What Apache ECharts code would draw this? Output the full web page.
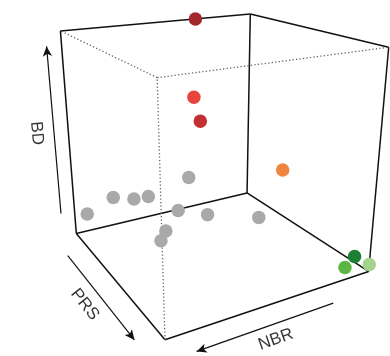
<!DOCTYPE html>
<html>
<head>
<meta charset="utf-8">
<script src="https://cdn.jsdelivr.net/npm/echarts@6/dist/echarts.min.js"></script>
<style>html,body{margin:0;padding:0;background:#fff}#chart{width:390px;height:356px}</style>
</head>
<body>
<div id="chart"></div>
<script>
// Scaled values (0 = axis minimum, 1 = axis maximum) for each site
const sites = ['s1','s2','s3','s4','s5','s6','s7','s8','s9','s10','s11','s12','s13','s14','s15','s16','s17'];
const nbr = [0.32, 0.60, 0.57, 0.31, 0.97, 0.87, 0.81, 0.76, 0.63, 0.72, 0.62, 0.41, 0.80, 0.84, 0.09, 0.14, 0.00];
const prs = [0.00, 0.50, 0.50, 0.755, 0.10, 0.195, 0.30, 0.35, 0.50, 0.57, 0.65, 0.73, 0.61, 0.645, 1.00, 1.00, 1.00];
const bd  = [1.00, 0.76, 0.65, 0.46, 0.14, 0.24, 0.26, 0.28, 0.40, 0.29, 0.28, 0.25, 0.23, 0.21, 0.10, 0.06, 0.035];
const siteColors = ['#a3282c','#e8433c','#c43032','#f08540',
  '#a9a9a9','#a9a9a9','#a9a9a9','#a9a9a9','#a9a9a9','#a9a9a9','#a9a9a9','#a9a9a9','#a9a9a9','#a9a9a9',
  '#1c7f36','#5cb544','#a3d38c'];
const axisNames = ['NBR','PRS','BD'];

// Perspective camera looking at the centre of the unit box
const cam = { theta: 29.9, phi: 20.0, dist: 2.97, focal: 670.4, cx: 214.4, cy: 151.1 };
function project(a, b, c) {
  const t = cam.theta * Math.PI / 180, p = cam.phi * Math.PI / 180;
  const pa = a - 0.5, pb = b - 0.5, pc = c - 0.5;
  const u = -Math.cos(t) * pa + Math.sin(t) * pb;
  const w = Math.sin(t) * pa + Math.cos(t) * pb;
  const yv = Math.cos(p) * pc - Math.sin(p) * w;
  const zv = Math.sin(p) * pc + Math.cos(p) * w;
  const d = cam.dist - zv;
  return [cam.cx + cam.focal * u / d, cam.cy - cam.focal * yv / d, d];
}

// Box edges: solid outline and dotted near edges
const solidEdges = [
  [[1,0,1],[0,0,1]], [[0,0,1],[0,1,1]],
  [[1,0,0],[1,0,1]], [[0,0,0],[0,0,1]], [[0,1,0],[0,1,1]],
  [[0,0,0],[1,0,0]], [[0,0,0],[0,1,0]], [[0,1,0],[1,1,0]], [[1,0,0],[1,1,0]]
];
const dottedEdges = [
  [[1,1,0],[1,1,1]], [[1,1,1],[1,0,1]], [[1,1,1],[0,1,1]]
];
// Axis arrows (start, end) and label anchors in box space
const arrows = [
  { from: [1, -0.24, 0.01], to: [1, -0.24, 0.89], label: [1, -0.58, 0.354] },  // BD
  { from: [1.109, 0.198, 0], to: [1.099, 0.944, 0], label: [1.179, 0.626, 0] }, // PRS
  { from: [0.298, 1.12, 0], to: [0.931, 1.12, 0], label: [0.641, 1.205, 0] }    // NBR
];
const arrowAxis = [2, 1, 0];

const xy = v => { const q = project(v[0], v[1], v[2]); return [q[0], q[1]]; };
const edgeData = (list) => list.map(e => ({ coords: [xy(e[0]), xy(e[1])] }));

const points = sites.map((s, i) => {
  const q = project(nbr[i], prs[i], bd[i]);
  return { name: s, value: [q[0], q[1]], depth: q[2], itemStyle: { color: siteColors[i] } };
}).sort((m, n) => n.depth - m.depth);

const labelData = arrows.map((ar, k) => {
  const p0 = xy(ar.from), p1 = xy(ar.to);
  let ang = Math.atan2(-(p1[1] - p0[1]), p1[0] - p0[0]) * 180 / Math.PI;
  if (ang > 90) ang -= 180;
  if (ang < -90) ang += 180;
  return { name: axisNames[arrowAxis[k]], value: xy(ar.label),
           label: { rotate: ang } };
});
// the vertical axis title is read top to bottom
labelData[0].label.rotate = labelData[0].label.rotate > 0 ? labelData[0].label.rotate - 180 : labelData[0].label.rotate;

const chart = echarts.init(document.getElementById('chart'), null, { renderer: 'canvas' });
chart.setOption({
  animation: false,
  grid: { left: 0, right: 0, top: 0, bottom: 0 },
  xAxis: { type: 'value', min: 0, max: 390, show: false },
  yAxis: { type: 'value', min: 0, max: 356, inverse: true, show: false },
  series: [
    { type: 'lines', coordinateSystem: 'cartesian2d', z: 1, silent: true,
      lineStyle: { color: '#111', width: 1.5, opacity: 1 },
      data: edgeData(solidEdges) },
    { type: 'lines', coordinateSystem: 'cartesian2d', z: 1, silent: true,
      lineStyle: { color: '#666', width: 1.3, type: [1.3, 2.2], opacity: 1 },
      data: edgeData(dottedEdges) },
    { type: 'lines', coordinateSystem: 'cartesian2d', z: 1, silent: true,
      symbol: ['none', 'arrow'], symbolSize: [0, [7, 10]],
      lineStyle: { color: '#111', width: 1.2, opacity: 1 },
      data: arrows.map(ar => ({ coords: [xy(ar.from), xy(ar.to)] })) },
    { type: 'scatter', z: 3, symbolSize: 13.5, silent: true,
      itemStyle: { opacity: 1 },
      data: points },
    { type: 'scatter', z: 4, symbolSize: 0, silent: true,
      label: { show: true, position: 'inside', formatter: '{b}', color: '#000',
               fontFamily: 'Liberation Sans, Arial, sans-serif', fontSize: 17 },
      data: labelData }
  ]
});
</script>
</body>
</html>
